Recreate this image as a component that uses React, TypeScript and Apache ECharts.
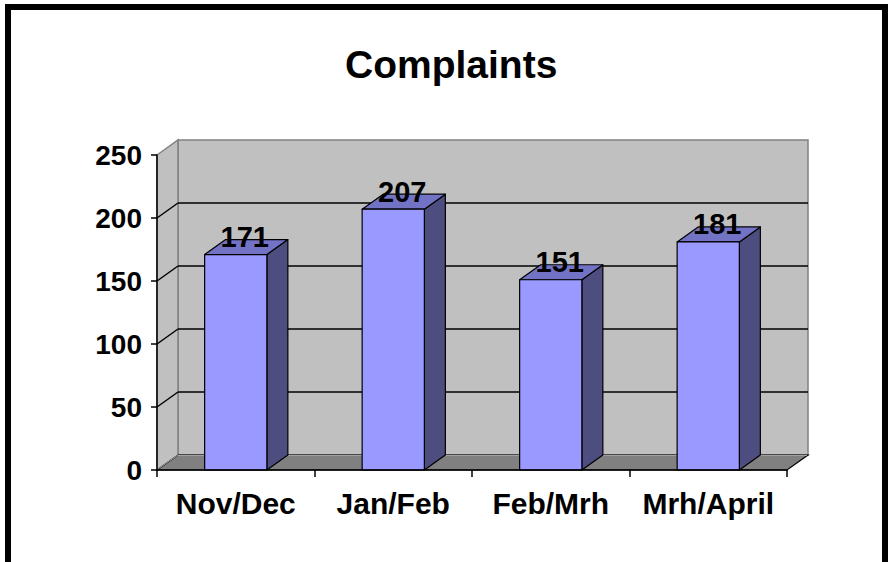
import React, { useEffect, useRef } from 'react';
import * as echarts from 'echarts';

const chartTitle = 'Complaints';
const categories = ['Nov/Dec', 'Jan/Feb', 'Feb/Mrh', 'Mrh/April'];
const complaints = [171, 207, 151, 181];
const yTicks = [0, 50, 100, 150, 200, 250];

const DX = 21;
const DY = -15;
const FONT = '"Liberation Sans", Arial, Helvetica, sans-serif';

export default function App() {
  const ref = useRef<HTMLDivElement>(null);

  useEffect(() => {
    document.body.style.margin = '0';
    const chart = echarts.init(ref.current as HTMLDivElement, null, { renderer: 'svg' });

    const axisLineStyle = { color: '#000000', width: 1.5 };

    const option: any = {
      animation: false,
      backgroundColor: '#ffffff',
      title: {
        text: chartTitle,
        left: 340,
        top: 40,
        textStyle: { fontFamily: FONT, fontWeight: 'bold', fontSize: 39, color: '#000000' },
      },
      grid: { left: 157, right: 105, top: 155, bottom: 92, containLabel: false },
      xAxis: {
        type: 'category',
        data: categories,
        z: 10,
        axisLine: { show: true, lineStyle: axisLineStyle },
        axisTick: { show: true, interval: 0, length: 7, lineStyle: axisLineStyle },
        axisLabel: { interval: 0, margin: 18, fontFamily: FONT, fontWeight: 'bold', fontSize: 30, color: '#000000' },
        splitLine: { show: false },
      },
      yAxis: {
        type: 'value',
        min: yTicks[0],
        max: yTicks[yTicks.length - 1],
        interval: 50,
        z: 10,
        axisLine: { show: true, lineStyle: axisLineStyle },
        axisTick: { show: true, length: 6, lineStyle: axisLineStyle },
        axisLabel: { margin: 15, fontFamily: FONT, fontWeight: 'bold', fontSize: 28, color: '#000000' },
        splitLine: { show: false },
      },
      graphic: [
        {
          type: 'rect',
          silent: true,
          z: 100,
          shape: { x: 8, y: 7, width: 877, height: 640 },
          style: { fill: 'none', stroke: '#000000', lineWidth: 6 },
        },
      ],
      series: [
        {
          type: 'custom',
          name: 'walls',
          clip: false,
          silent: true,
          z: 1,
          data: [[0, 0]],
          renderItem: (params: any, api: any) => {
            const cs = params.coordSys;
            const xL = cs.x;
            const xR = cs.x + cs.width;
            const yT = cs.y;
            const yB = cs.y + cs.height;
            const children: any[] = [];
            children.push({
              type: 'rect',
              shape: { x: xL + DX, y: yT + DY, width: cs.width, height: cs.height },
              style: { fill: '#c0c0c0', stroke: '#808080', lineWidth: 1.5 },
            });
            children.push({
              type: 'polygon',
              shape: { points: [[xL, yT], [xL + DX, yT + DY], [xL + DX, yB + DY], [xL, yB]] },
              style: { fill: '#c0c0c0', stroke: '#808080', lineWidth: 1.5 },
            });
            children.push({
              type: 'polygon',
              shape: { points: [[xL, yB], [xL + DX, yB + DY], [xR + DX, yB + DY], [xR, yB]] },
              style: { fill: '#808080', stroke: '#000000', lineWidth: 1.2 },
            });
            children.push({
              type: 'line',
              shape: { x1: xL + 1, y1: yB - 1, x2: xL + DX, y2: yB + DY },
              style: { stroke: '#a0a0a0', lineWidth: 1 },
            });
            children.push({
              type: 'line',
              shape: { x1: xL + DX, y1: yB + DY + 0.5, x2: xR + DX - 1, y2: yB + DY + 0.5 },
              style: { stroke: '#a0a0a0', lineWidth: 1 },
            });
            yTicks.forEach((t, k) => {
              if (k === 0 || k === yTicks.length - 1) return;
              const y = api.coord([0, t])[1];
              children.push({
                type: 'line',
                shape: { x1: xL + DX, y1: y + DY, x2: xR + DX, y2: y + DY },
                style: { stroke: '#000000', lineWidth: 1.5 },
              });
              children.push({
                type: 'line',
                shape: { x1: xL, y1: y, x2: xL + DX, y2: y + DY },
                style: { stroke: '#000000', lineWidth: 1.5 },
              });
            });
            return { type: 'group', children };
          },
        },
        {
          type: 'custom',
          name: 'Complaints',
          clip: false,
          z: 5,
          data: complaints.map((v, i) => [i, v]),
          encode: { x: 0, y: 1 },
          renderItem: (params: any, api: any) => {
            const i = api.value(0);
            const v = api.value(1);
            const base = api.coord([i, 0]);
            const top = api.coord([i, v]);
            const bw = api.size([1, 0])[0] * 0.395;
            const cx = base[0];
            const x0 = cx - bw / 2;
            const x1 = cx + bw / 2;
            const y0 = base[1];
            const y1 = top[1];
            const edge = { stroke: '#000000', lineWidth: 1.2, lineJoin: 'round' };
            return {
              type: 'group',
              children: [
                {
                  type: 'polygon',
                  shape: { points: [[x1, y0], [x1 + DX, y0 + DY], [x1 + DX, y1 + DY], [x1, y1]] },
                  style: { fill: '#4d4d80', ...edge },
                },
                {
                  type: 'polygon',
                  shape: { points: [[x0, y1], [x0 + DX, y1 + DY], [x1 + DX, y1 + DY], [x1, y1]] },
                  style: { fill: '#7373c6', ...edge },
                },
                {
                  type: 'rect',
                  shape: { x: x0, y: y1, width: bw, height: y0 - y1 },
                  style: { fill: '#9999ff', ...edge },
                },
                {
                  type: 'text',
                  z2: 10,
                  x: cx + 9,
                  y: y1 - 17.5,
                  style: {
                    text: String(v),
                    fill: '#000000',
                    fontFamily: FONT,
                    fontWeight: 'bold',
                    fontSize: 29,
                    align: 'center',
                    verticalAlign: 'middle',
                  },
                },
              ],
            };
          },
        },
      ],
    };

    chart.setOption(option);
    return () => {
      chart.dispose();
    };
  }, []);

  return (
    <div
      ref={ref}
      style={{ position: 'absolute', left: 0, top: 0, width: 892, height: 562 }}
    />
  );
}
